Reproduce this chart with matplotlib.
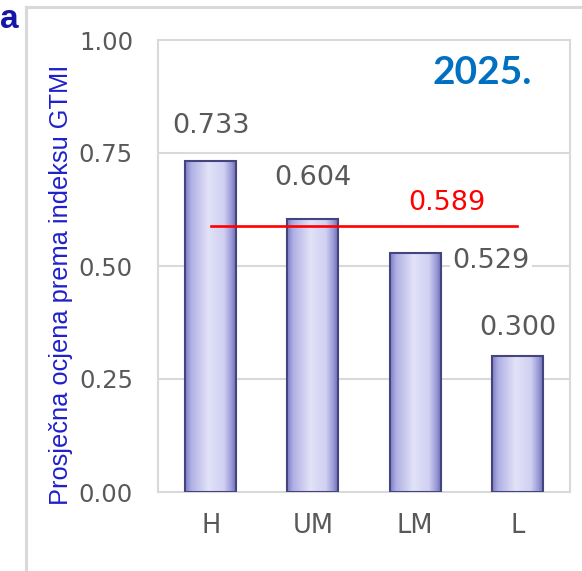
import matplotlib
matplotlib.use("Agg")
import matplotlib.pyplot as plt
import numpy as np
from matplotlib.colors import LinearSegmentedColormap
from matplotlib.lines import Line2D

categories = ["H", "UM", "LM", "L"]
scores = [0.733, 0.604, 0.529, 0.300]
average_score = 0.589
year_label = "2025."
panel_label = "a"
y_label = "Prosječna ocjena prema indeksu GTMI"
y_ticks = [0.00, 0.25, 0.50, 0.75, 1.00]

W, H = 582, 571
fig = plt.figure(figsize=(W / 100, H / 100), dpi=100)
ax = fig.add_axes([158 / W, 1 - 492 / H, (570 - 158) / W, (492 - 40) / H])

grid_color = "#d9d9d9"
text_gray = "#595959"

# plot frame and gridlines
for spine in ax.spines.values():
    spine.set_color(grid_color)
    spine.set_linewidth(1.5)
for t in y_ticks[1:-1]:
    ax.axhline(t, color=grid_color, linewidth=1.5, zorder=0)

# bars with horizontal shading
shade = LinearSegmentedColormap.from_list(
    "bar_shade",
    [(0.0, "#7c7cc4"), (0.12, "#b0b0e4"), (0.45, "#e2e2f8"),
     (0.75, "#d0d0f2"), (0.9, "#9898d6"), (1.0, "#6464aa")],
)
x = np.arange(len(categories))
width = 0.5
bars = ax.bar(x, scores, width=width, color="none", edgecolor="#44447e",
              linewidth=1.5, zorder=3)
grad = np.linspace(0, 1, 256).reshape(1, -1)
for rect in bars:
    x0 = rect.get_x()
    img = ax.imshow(grad, extent=[x0, x0 + width, 0, rect.get_height()],
                    aspect="auto", cmap=shade, zorder=2, interpolation="bicubic")
    img.set_clip_path(rect)

# average line
ax.plot([x[0], x[-1]], [average_score, average_score], color="#ff0000",
        linewidth=1.9, zorder=4)
ax.text(2.31, 0.639, f"{average_score:.3f}", color="#ff0000", fontsize=19.5,
        ha="center", va="center", zorder=5)

# value labels
label_spots = [(0.0, 0.810), (1.0, 0.695), (2.74, 0.511), (3.0, 0.363)]
for (lx, ly), v in zip(label_spots, scores):
    ax.text(lx, ly, f"{v:.3f}", color=text_gray, fontsize=19.5, ha="center",
            va="center", zorder=5,
            bbox=dict(facecolor="white", edgecolor="none", pad=1.5))

ax.set_xlim(-0.515, 3.515)
ax.set_ylim(0, 1)
ax.set_xticks(x)
ax.set_xticklabels(categories)
ax.set_yticks(y_ticks)
ax.set_yticklabels([f"{t:.2f}" for t in y_ticks])
ax.tick_params(axis="both", length=0, colors=text_gray, labelsize=17.5)
ax.tick_params(axis="y", pad=18)
ax.tick_params(axis="x", pad=15, labelsize=18.5)
ax.set_ylabel(y_label, color="#2020cc", fontsize=18.3,
              family="Liberation Sans")
ax.yaxis.set_label_coords(-85 / (570 - 158), (492 - 285) / (492 - 40))

ax.text(0.908, 0.927, year_label, transform=ax.transAxes, color="#0070c0",
        fontsize=28, fontweight="bold", family="Lato", ha="right", va="center")

# outer panel frame
fig.add_artist(Line2D([25.5 / W, 25.5 / W], [0, 1 - 7 / H], color=grid_color,
                      linewidth=2.2, transform=fig.transFigure))
fig.add_artist(Line2D([25.5 / W, 1], [1 - 7 / H, 1 - 7 / H], color=grid_color,
                      linewidth=2.2, transform=fig.transFigure))
fig.text(0.0, 1 - 20 / H, panel_label, color="#1515a8", fontsize=24,
         fontweight="bold", family="Liberation Sans", ha="left", va="center")

fig.savefig("out.png", dpi=100)
